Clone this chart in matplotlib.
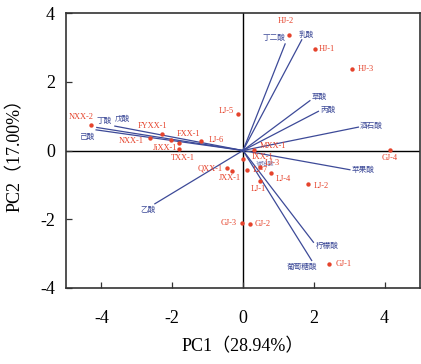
import matplotlib
matplotlib.use("Agg")
import matplotlib.pyplot as plt

# ---- data ----
samples = ["HJ-2", "HJ-1", "HJ-3", "LJ-5", "GJ-4", "MXX-1", "NXX-2", "FYXX-1",
           "NXX-1", "FXX-1", "JiXX-1", "TXX-1", "LJ-6", "QXX-1", "JXX-1",
           "IXX-1", "LJ-7", "LJ-3", "LJ-4", "LJ-1", "LJ-2", "GJ-3", "GJ-2", "GJ-1"]
pc1 = [1.31, 2.03, 3.09, -0.15, 4.15, 0.32, -4.29, -2.29,
       -2.64, -1.81, -2.02, -1.81, -1.19, -0.44, -0.30,
       0.01, 0.12, 0.47, 0.79, 0.48, 1.83, -0.04, 0.20, 2.44]
pc2 = [3.35, 2.96, 2.38, 1.07, 0.02, 0.02, 0.75, 0.48,
       0.36, 0.22, 0.31, 0.05, 0.28, -0.50, -0.61,
       -0.26, -0.58, -0.48, -0.65, -0.89, -0.97, -2.11, -2.13, -3.31]

variables = ["丁二酸", "乳酸", "草酸", "丙酸", "酒石酸", "苹果酸", "柠檬酸",
             "葡萄糖酸", "乙酸", "丁酸", "戊酸", "己酸"]
load1 = [1.19, 1.66, 1.89, 2.13, 3.26, 3.02, 1.99, 1.94, -2.49, -4.13, -3.62, -4.15]
load2 = [3.10, 3.22, 1.45, 1.14, 0.68, -0.56, -2.67, -3.20, -1.55, 0.67, 0.71, 0.60]

xticks = [-4, -2, 0, 2, 4]
yticks = [-4, -2, 0, 2, 4]
xlabel = "PC1（28.94%）"
ylabel = "PC2（17.00%）"

# ---- layout (label offsets in pixels, alignment) ----
sample_off = {
    "HJ-2": (-4, 10, "center", "bottom"), "HJ-1": (4, 0, "left", "center"),
    "HJ-3": (5, 0, "left", "center"), "LJ-5": (-4, 3, "right", "center"),
    "GJ-4": (0, -4, "center", "top"), "MXX-1": (5, 4, "left", "center"),
    "NXX-2": (-10, 4, "center", "bottom"), "FYXX-1": (-9, 4, "center", "bottom"),
    "NXX-1": (-6, -3, "right", "center"), "FXX-1": (10, 5, "center", "bottom"),
    "JiXX-1": (-6, -4, "center", "top"), "TXX-1": (4, -5, "center", "top"),
    "LJ-6": (8, 1, "left", "center"), "QXX-1": (-5, -1, "right", "center"),
    "JXX-1": (-2, -3, "center", "top"), "IXX-1": (8, 2, "left", "center"),
    "LJ-7": (5, 0, "left", "center"), "LJ-3": (5, 4, "left", "center"),
    "LJ-4": (5, -6, "left", "center"), "LJ-1": (-2, -4, "center", "top"),
    "LJ-2": (6, -2, "left", "center"), "GJ-3": (-5, 0, "right", "center"),
    "GJ-2": (5, 0, "left", "center"), "GJ-1": (6, 0, "left", "center"),
}
var_off = {
    "丁二酸": (-11, 6, "center", "center"), "乳酸": (5, 5, "center", "center"),
    "草酸": (2, 4, "left", "center"), "丙酸": (2, 1, "left", "center"),
    "酒石酸": (1, 1, "left", "center"), "苹果酸": (2, 0, "left", "center"),
    "柠檬酸": (2, -4, "left", "center"), "葡萄糖酸": (-10, -6, "center", "center"),
    "乙酸": (-7, -6, "center", "center"), "丁酸": (0, 7, "left", "center"),
    "戊酸": (0, 7, "left", "center"), "己酸": (-1, -7, "right", "center"),
}

RED = "#E5432C"
BLUE = "#3D4A98"
FAM = ["Liberation Serif", "Noto Sans CJK SC"]

plt.rcParams["font.family"] = FAM

fig = plt.figure(figsize=(4.21, 3.64), dpi=100)
ax = fig.add_axes([66 / 421, 1 - 288 / 364, (420 - 66) / 421, (288 - 13) / 364])
ax.set_xlim(-5, 5)
ax.set_ylim(-4, 4)

ax.axhline(0, color="black", lw=1.0, zorder=1)
ax.axvline(0, color="black", lw=1.0, zorder=1)

for name, x, y in zip(variables, load1, load2):
    ax.plot([0, x], [0, y], color=BLUE, lw=0.9, zorder=2)
    dx, dy, ha, va = var_off[name]
    ax.annotate(name, (x, y), xytext=(dx, dy), textcoords="offset pixels",
                ha=ha, va=va, color=BLUE, fontsize=5.5,
                family=["Noto Sans CJK SC"], zorder=3)

ax.annotate("琥珀酸", (0.36, -0.40), xytext=(0, 0), textcoords="offset pixels",
            ha="left", va="center", color=BLUE, fontsize=4.5, alpha=0.7,
            family=["Noto Sans CJK SC"], zorder=3)

ax.scatter(pc1, pc2, s=10, color=RED, zorder=4, linewidths=0)
for name, x, y in zip(samples, pc1, pc2):
    dx, dy, ha, va = sample_off[name]
    ax.annotate(name, (x, y), xytext=(dx, dy), textcoords="offset pixels",
                ha=ha, va=va, color=RED, fontsize=6, family=FAM, zorder=5)

ax.set_xticks(xticks)
ax.set_yticks(yticks)
ax.set_xticklabels([str(t) for t in xticks])
ax.set_yticklabels([str(t) for t in yticks])
ax.tick_params(direction="in", length=4, width=0.9, labelsize=13,
               color="#333333")
ax.tick_params(axis="x", pad=16)
ax.tick_params(axis="y", pad=8)
for s in ax.spines.values():
    s.set_linewidth(1.2)
    s.set_color("#333333")

ax.set_xlabel(xlabel, fontsize=13, labelpad=8)
ax.set_ylabel(ylabel, fontsize=13, labelpad=12)

fig.savefig("out.png", dpi=100)
